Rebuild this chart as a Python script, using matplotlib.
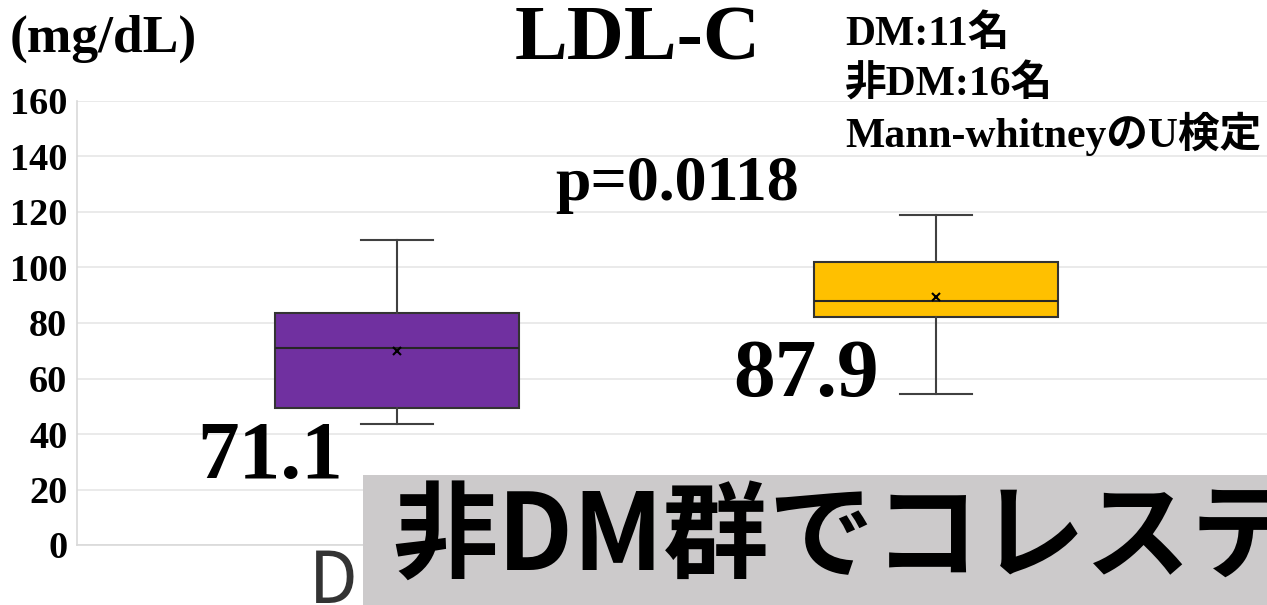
import matplotlib.pyplot as plt
from matplotlib.patches import Rectangle

# values
groups = ["DM群", "非DM群"]
whislo = [43.7, 54.5]
q1 = [49.5, 82.3]
med = [71.1, 87.9]
q3 = [83.5, 101.9]
whishi = [110.0, 118.9]
means = [69.9, 89.5]
colors = ["#7030A0", "#FFC000"]
yticks = [0, 20, 40, 60, 80, 100, 120, 140, 160]
notes = ["DM:11名", "非DM:16名", "Mann-whitneyのU検定"]
p_text = "p=0.0118"

W, H = 1267, 605
serif = ["Liberation Serif", "Noto Sans CJK JP"]
sans = ["Noto Sans CJK JP", "DejaVu Sans"]

fig = plt.figure(figsize=(W / 100, H / 100), dpi=100)
ax = fig.add_axes([77 / W, 60 / H, (W - 77) / W, 444 / H])

stats = []
for i, g in enumerate(groups):
    stats.append(dict(label=g, med=med[i], q1=q1[i], q3=q3[i],
                      whislo=whislo[i], whishi=whishi[i],
                      mean=means[i], fliers=[]))

bp = ax.bxp(
    stats,
    positions=[0, 1],
    widths=0.4545,
    capwidths=0.134,
    patch_artist=True,
    showmeans=True,
    boxprops=dict(edgecolor="#333333", linewidth=1.5),
    whiskerprops=dict(color="#404040", linewidth=1.5),
    capprops=dict(color="#404040", linewidth=1.5),
    medianprops=dict(color="#262626", linewidth=1.5),
    meanprops=dict(marker="x", markeredgecolor="black",
                   markersize=6, markeredgewidth=1.5),
)
for patch, c in zip(bp["boxes"], colors):
    patch.set_facecolor(c)

ax.set_xlim(-0.5937, -0.5937 + 1190 / 539)
ax.set_ylim(0, 160)
ax.set_yticks(yticks)
ax.set_yticklabels([str(t) for t in yticks], family=serif,
                   fontweight="bold", fontsize=27.5)
ax.set_xticks([0, 1])
ax.set_xticklabels(groups, family=sans, fontsize=51, color="#333333")
ax.tick_params(axis="both", length=0)
ax.tick_params(axis="y", pad=7)
ax.tick_params(axis="x", pad=1)
ax.grid(axis="y", color="#E6E6E6", linewidth=1.2)
ax.set_axisbelow(True)
for s in ["top", "right"]:
    ax.spines[s].set_visible(False)
for s in ["left", "bottom"]:
    ax.spines[s].set_color("#D9D9D9")
    ax.spines[s].set_linewidth(1.2)

# median labels
ax.text(-0.236, 24.1, f"{med[0]:.1f}", family=serif, fontweight="bold",
        fontsize=60, ha="center", va="baseline")
ax.text(0.759, 53.7, f"{med[1]:.1f}", family=serif, fontweight="bold",
        fontsize=60, ha="center", va="baseline")

fig.text(638 / W, 1 - 60 / H, "LDL-C", family=serif, fontweight="bold",
         fontsize=57, ha="center", va="baseline")
fig.text(10 / W, 1 - 52 / H, "(mg/dL)", family=serif, fontweight="bold",
         fontsize=38.5, ha="left", va="baseline")
for k, line in enumerate(notes):
    fig.text(845 / W, 1 - (45 + 51 * k) / H, line, family=serif,
             fontweight="bold", fontsize=30, ha="left", va="baseline")
fig.text(555 / W, 1 - 200 / H, p_text, family=serif, fontweight="bold",
         fontsize=46, ha="left", va="baseline")

# caption banner covering the lower part
fig.patches.append(Rectangle((363 / W, 0), (W - 363) / W, 130 / H,
                             transform=fig.transFigure, facecolor="#CCCACB",
                             edgecolor="none", zorder=5))
fig.text(392 / W, 1 - 538 / H, "非DM群でコレステロール", family=sans,
         fontweight="bold", fontsize=76, ha="left", va="center", zorder=6)

fig.savefig("out.png", dpi=100)
